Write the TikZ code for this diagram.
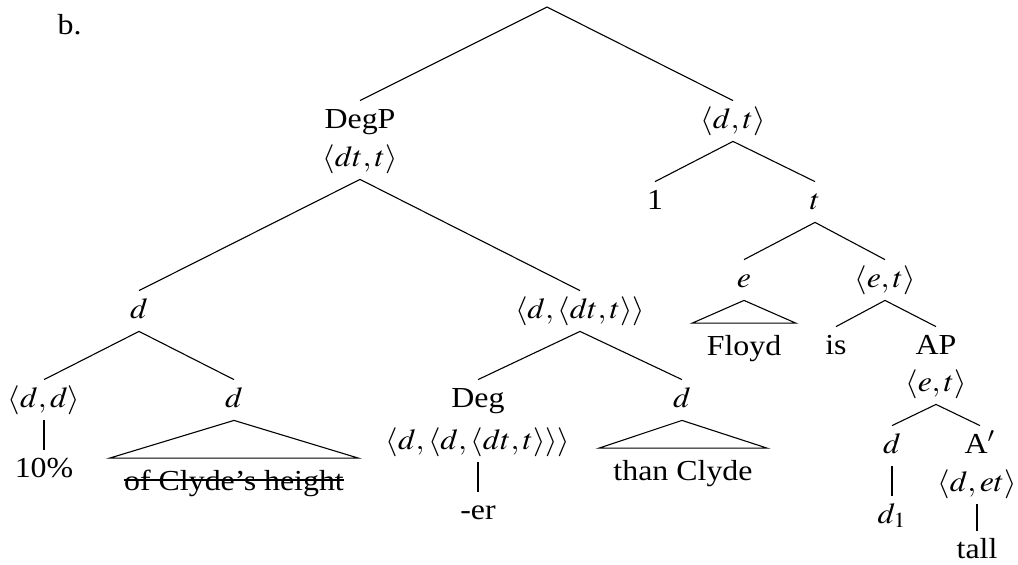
\documentclass[tikz,border=0pt]{standalone}
\usepackage{mathptmx}
\usepackage{fontspec}
\setmainfont{Liberation Serif}
\usetikzlibrary{calc}
\begin{document}
\begin{tikzpicture}[x=0.5pt,y=-0.5pt,
  lab/.style={font=\fontsize{14.5}{17}\selectfont, xscale=1.1, anchor=base,
              inner xsep=1pt, inner ysep=3pt, text height=10.5pt, text depth=3.5pt},
  tri/.style={lab, inner xsep=6.4pt, inner ysep=5.25pt},
  branch/.style={line width=0.55pt, line join=miter},
  strike/.style={line width=0.55pt}]
\useasboundingbox (0,0) rectangle (1018,564);

% example label
\node[lab, anchor=base west] (lbl) at (55,34) {b.};

% upper part of the tree
\coordinate (root) at (547,7);
\node[lab] (degp)  at (360,128) {DegP};
\node[lab] (degpT) at (360,166) {$\langle dt,t\rangle$};
\node[lab] (dt)    at (733,128) {$\langle d,t\rangle$};

% DegP subtree
\node[lab] (dL)   at (139,318) {$d$};
\node[lab] (ddtt) at (580,318) {$\langle d,\langle dt,t\rangle\rangle$};
\node[lab] (ddf)  at (44,407)  {$\langle d,d\rangle$};
\node[lab] (dM)   at (234,407) {$d$};
\node[lab] (ten)  at (44,477)  {10\%};
\node[tri] (och)  at (234,490) {of Clyde's height};
\node[lab] (deg)  at (478,407) {Deg};
\node[lab] (degT) at (478,449) {$\langle d,\langle d,\langle dt,t\rangle\rangle\rangle$};
\node[lab] (er)   at (478,519) {-er};
\node[lab] (dR)   at (682,407) {$d$};
\node[tri] (than) at (683,480) {than Clyde};

% lambda-abstracted part
\node[lab] (one)   at (655,209) {1};
\node[lab] (t)     at (815,209) {$t$};
\node[lab] (e)     at (744,287) {$e$};
\node[lab] (et)    at (885,287) {$\langle e,t\rangle$};
\node[tri] (floyd) at (744,355) {Floyd};
\node[lab] (is)    at (836,354) {is};
\node[lab] (ap)    at (936,354) {AP};
\node[lab] (apT)   at (936,391) {$\langle e,t\rangle$};
\node[lab] (dd)    at (892,453) {$d$};
\node[lab] (abar)  at (980,453) {A$'$};
\node[lab] (abarT) at (977,491) {$\langle d,et\rangle$};
\node[lab] (done)  at (892,523) {$d_1$};
\node[lab] (tall)  at (977,558) {tall};

% branches
\draw[branch] (degp.north) -- (root) -- (dt.north);
\draw[branch] (dL.north) -- (degpT.south) -- (ddtt.north);
\draw[branch] (ddf.north) -- (dL.south) -- (dM.north);
\draw[branch] (ddf.south) -- (ten.north);
\draw[branch] (dM.south) -- (och.north west) -- (och.north east) -- cycle;
\draw[branch] (deg.north) -- (ddtt.south) -- (dR.north);
\draw[branch] (degT.south) -- (er.north);
\draw[branch] (dR.south) -- (than.north west) -- (than.north east) -- cycle;
\draw[branch] (one.north) -- (dt.south) -- (t.north);
\draw[branch] (e.north) -- (t.south) -- (et.north);
\draw[branch] (e.south) -- (floyd.north west) -- (floyd.north east) -- cycle;
\draw[branch] (is.north) -- (et.south) -- (ap.north);
\draw[branch] (dd.north) -- (apT.south) -- (abar.north);
\draw[branch] (dd.south) -- (done.north);
\draw[branch] (abarT.south) -- (tall.north);

% deleted material
\draw[strike] ($(och.base west)+(14,-10)$) -- ($(och.base east)+(-14,-10)$);
\end{tikzpicture}
\end{document}
